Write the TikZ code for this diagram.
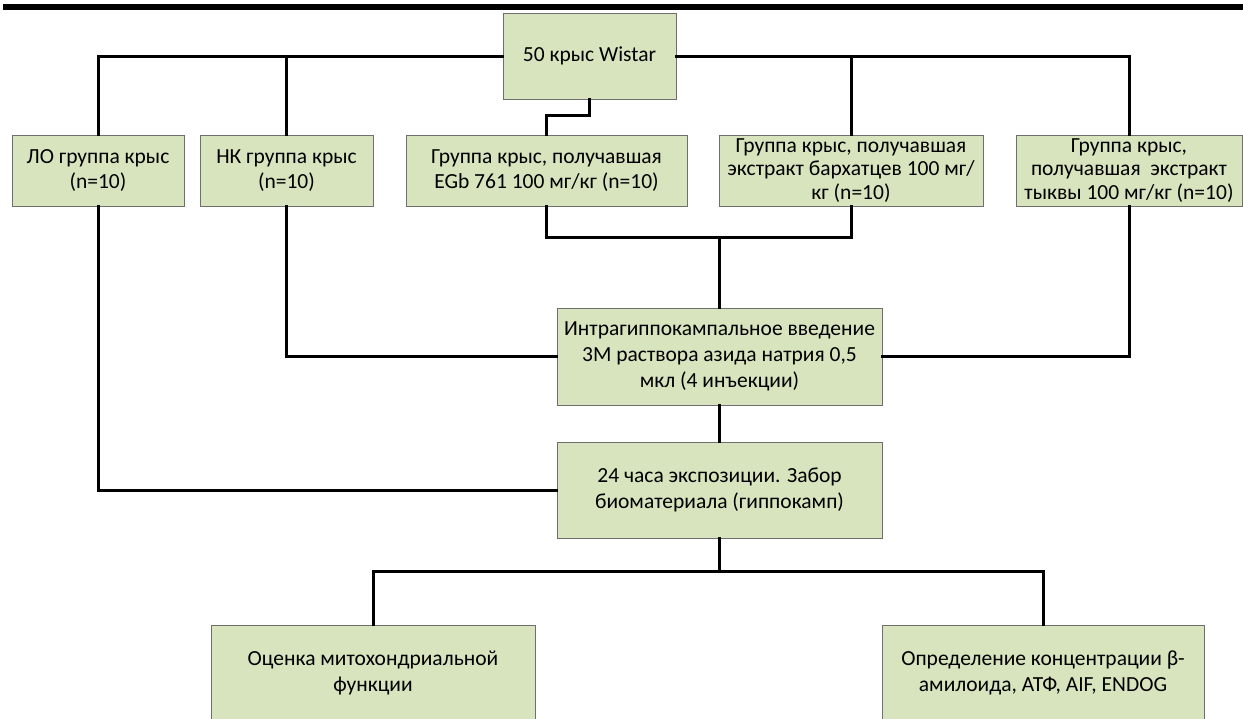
\documentclass[tikz,border=0pt]{standalone}
\usepackage{fontspec}
\setmainfont{Carlito}
\definecolor{boxfill}{HTML}{D7E4BD}
\definecolor{boxline}{HTML}{6F6F6F}
\begin{document}
\begin{tikzpicture}[x=0.5pt,y=-0.5pt,
  blk/.style={draw=boxline,line width=0.5pt,fill=boxfill,align=center,inner sep=0pt,
    font=\fontsize{10.75}{12.9}\selectfont},
  tight/.style={font=\fontsize{10.75}{11.7}\selectfont},
  conn/.style={line width=1.5pt,line cap=rect}]
\useasboundingbox (0,0) rectangle (1243,718);
\fill[black] (3,4) rectangle (1243,10);
\node[blk,minimum width=86.5pt,minimum height=43pt] (wistar) at (589.5,56) {50 крыс Wistar};
\node[blk,minimum width=86pt,minimum height=35.5pt] (lo) at (98,170.5) {ЛО группа крыс\\(n=10)};
\node[blk,minimum width=86.5pt,minimum height=35.5pt] (nk) at (286.5,170.5) {НК группа крыс\\(n=10)};
\node[blk,minimum width=140.5pt,minimum height=35.5pt] (egb) at (546.5,170.5) {Группа крыс, получавшая\\EGb 761 100 мг/кг (n=10)};
\node[blk,tight,minimum width=132pt,minimum height=35.5pt] (bar) at (851,170.5) {Группа крыс, получавшая\\экстракт бархатцев 100 мг/\\кг (n=10)};
\node[blk,tight,minimum width=113pt,minimum height=35.5pt] (ty) at (1129,170.5) {Группа крыс,\\получавшая\ \ экстракт\\тыквы 100 мг/кг (n=10)};
\node[blk,minimum width=162.5pt,minimum height=48.5pt] (intra) at (719.5,356.5) {Интрагиппокампальное введение\\3М раствора азида натрия 0,5\\мкл (4 инъекции)};
\node[blk,minimum width=162.5pt,minimum height=48pt] (expo) at (719.5,490) {24 часа экспозиции. Забор\\биоматериала (гиппокамп)};
\node[blk,minimum width=162pt,minimum height=48pt] (mito) at (373,673) {Оценка митохондриальной\\функции};
\node[blk,minimum width=161pt,minimum height=48pt] (opr) at (1043,673) {Определение концентрации β-\\амилоида, АТФ, AIF, ENDOG};
\coordinate (j1) at (719.5,237);
\coordinate (j2) at (719.5,571);
% top distribution
\draw[conn] (wistar.west) -| (lo.north);
\draw[conn] (nk.north) -- (nk.north |- wistar.west);
\draw[conn] (wistar.east) -| (ty.north);
\draw[conn] (bar.north) -- (bar.north |- wistar.east);
\draw[conn] (wistar.south) -- ++(0,16) -| (egb.north);
% middle
\draw[conn] (egb.south) |- (j1);
\draw[conn] (bar.south) |- (j1);
\draw[conn] (j1) -- (intra.north);
\draw[conn] (nk.south) |- (intra.west);
\draw[conn] (ty.south) |- (intra.east);
\draw[conn] (lo.south) |- (expo.west);
\draw[conn] (intra.south) -- (expo.north);
% bottom
\draw[conn] (expo.south) -- (j2);
\draw[conn] (j2) -| (mito.north);
\draw[conn] (j2) -| (opr.north);
\end{tikzpicture}
\end{document}
